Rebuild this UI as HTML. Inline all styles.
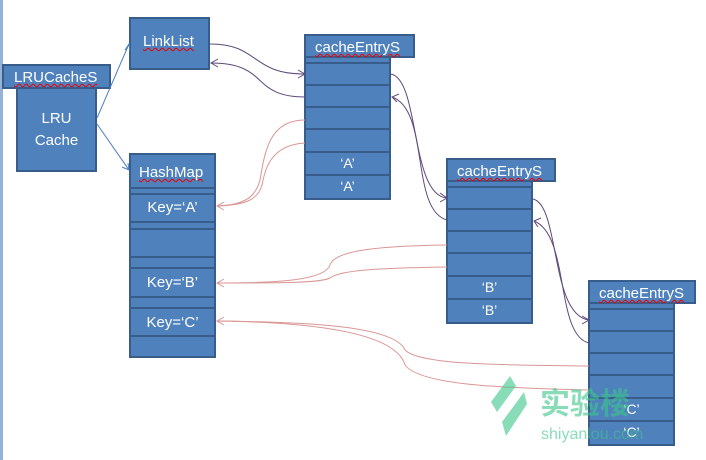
<!DOCTYPE html>
<html><head><style>
body{margin:0;background:#fff;width:706px;height:460px;overflow:hidden;position:relative;font-family:"Liberation Sans","Noto Sans CJK SC",sans-serif}
.b{position:absolute;background:#4f81bd;border:2px solid #385d8a;box-sizing:border-box;color:#fff;font-size:14px}
.u{text-decoration:underline wavy #e00;text-decoration-thickness:1px}
.row{position:absolute;left:0;right:0;border-top:2px solid #385d8a;text-align:center;line-height:21px}
svg{position:absolute;left:0;top:0}
</style></head><body>
<div style="position:absolute;left:0;top:0;width:3px;height:460px;background:#95b3d7"></div>
<div class="b" style="left:16px;top:86px;width:81px;height:86px;text-align:center;padding-top:20px;line-height:22px;font-size:15px">LRU<br>Cache</div>
<div class="b" style="left:2px;top:64px;width:109px;height:25px;line-height:23px;padding-left:10px;font-size:15px"><span class="u">LRUCacheS</span></div>
<div class="b" style="left:129px;top:17px;width:81px;height:53px;padding:14px 0 0 12px;font-size:15px"><span class="u">LinkList</span></div>
<div class="b" style="left:129px;top:153px;width:87px;height:205px;font-size:15px">
<div style="padding:9px 0 0 8px"><span class="u">HashMap</span></div>
<div class="row" style="top:32px;height:6px"></div>
<div class="row" style="top:38px;line-height:26px">Key=‘A’</div>
<div class="row" style="top:66px;height:7px"></div>
<div class="row" style="top:73px"></div>
<div class="row" style="top:101px;height:11px"></div>
<div class="row" style="top:112px;line-height:27px">Key=‘B’</div>
<div class="row" style="top:141px;height:11px"></div>
<div class="row" style="top:152px;line-height:27px">Key=‘C’</div>
<div class="row" style="top:180px"></div>
</div>
<!-- entry 1 -->
<div class="b" style="left:304px;top:55px;width:87px;height:145px">
<div class="row" style="top:3px;border-top:none;border-bottom:2px solid #385d8a;height:2px"></div>
<div class="row" style="top:27px"></div><div class="row" style="top:49px"></div><div class="row" style="top:71px"></div><div class="row" style="top:94px">‘A’</div><div class="row" style="top:117px">‘A’</div>
</div>
<div class="b" style="left:304px;top:34px;width:111px;height:24px;line-height:24px;padding-left:9px;font-size:15px"><span class="u">cacheEntryS</span></div>
<!-- entry 2 -->
<div class="b" style="left:446px;top:179px;width:87px;height:145px">
<div class="row" style="top:3px;border-top:none;border-bottom:2px solid #385d8a;height:2px"></div>
<div class="row" style="top:27px"></div><div class="row" style="top:49px"></div><div class="row" style="top:71px"></div><div class="row" style="top:94px">‘B’</div><div class="row" style="top:117px">‘B’</div>
</div>
<div class="b" style="left:446px;top:158px;width:110px;height:24px;line-height:24px;padding-left:9px;font-size:15px"><span class="u">cacheEntryS</span></div>
<!-- entry 3 -->
<div class="b" style="left:588px;top:301px;width:87px;height:145px">
<div class="row" style="top:3px;border-top:none;border-bottom:2px solid #385d8a;height:2px"></div>
<div class="row" style="top:27px"></div><div class="row" style="top:49px"></div><div class="row" style="top:71px"></div><div class="row" style="top:94px">‘C’</div><div class="row" style="top:117px">‘C’</div>
</div>
<div class="b" style="left:588px;top:280px;width:108px;height:24px;line-height:24px;padding-left:9px;font-size:15px"><span class="u">cacheEntryS</span></div>
<svg width="706" height="460" fill="none">
<g stroke="#4f81bd" stroke-width="1">
<path d="M97 118 L129 44 M125 50 L129 44 L130 51"/>
<path d="M97 124 L129 170 M122 167 L129 170 L128 163"/>
</g>
<g stroke="#604a7b" stroke-width="1">
<path d="M210 44 C260 44 250 74 305 74 M298 70 L305 74 L298 78"/>
<path d="M305 97 C250 97 270 63 211 63 M218 59 L211 63 L218 67"/>
<path d="M391 74 C420 80 410 195 447 198 M440 193 L447 198 L440 202"/>
<path d="M447 220 C410 210 430 110 392 97 M399 94 L392 97 L397 102"/>
<path d="M533 199 C560 205 550 315 589 320 M582 316 L589 320 L582 324"/>
<path d="M589 343 C555 335 570 235 534 221 M541 218 L534 221 L538 227"/>
</g>
<g stroke="#d99694" stroke-width="1">
<path d="M305 120 C270 120 265 150 260 180 C255 200 240 205 217 206 M224 202 L217 206 L224 210"/>
<path d="M305 143 C270 145 265 170 262 185 C258 200 245 205 217 206"/>
<path d="M447 245 C380 246 335 250 330 265 C325 280 280 283 217 283 M224 279 L217 283 L224 287"/>
<path d="M447 267 C380 268 340 270 330 278 C320 283 280 283 217 283"/>
<path d="M589 366 C500 365 420 365 405 350 C395 325 300 322 217 321 M224 317 L217 321 L224 325"/>
<path d="M589 390 C500 388 420 385 405 365 C395 330 300 322 217 321"/>
</g>
<g fill="#3cc68a" opacity="0.6">
<path d="M510 376 L516 386 L497 412 L491 402 Z"/>
<path d="M524 392 L527 404 L506 436 L502 422 Z"/>
</g>
<text x="540" y="414" font-size="30" fill="#3cc68a" opacity="0.6" font-family="Noto Sans CJK SC,sans-serif" font-weight="bold">实验楼</text>
<text x="541" y="439" font-size="16" fill="#3cc68a" opacity="0.6" font-family="Liberation Sans,sans-serif">shiyanlou.com</text>
</svg>
</body></html>
